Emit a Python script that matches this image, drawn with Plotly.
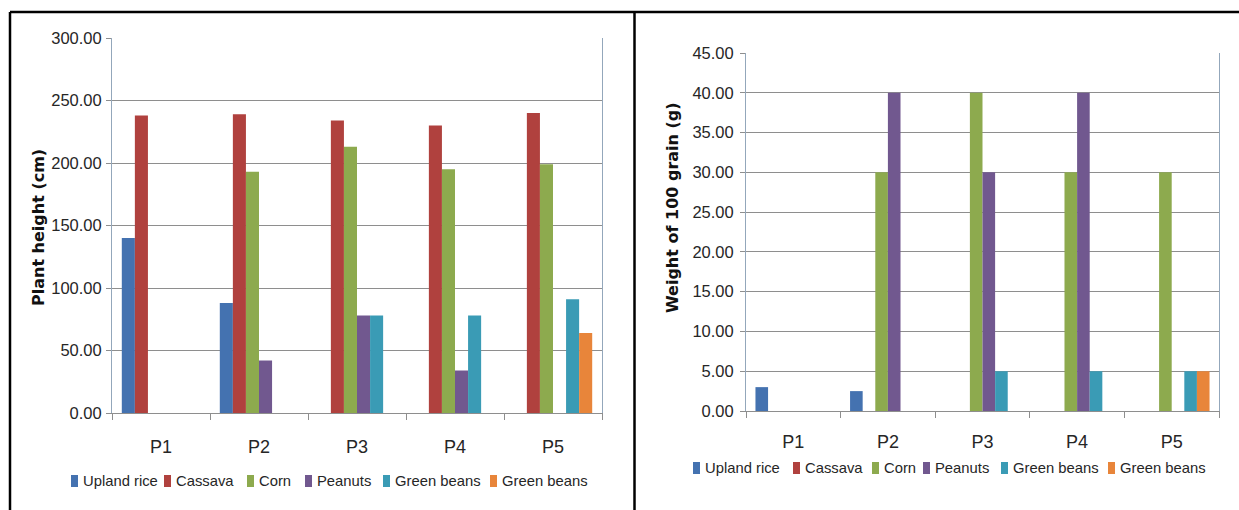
import plotly.graph_objects as go

# Plots and crops
plots = ["P1", "P2", "P3", "P4", "P5"]
crops = ["Upland rice", "Cassava", "Corn", "Peanuts", "Green beans", "Green beans"]
colors = ["#4472B0", "#B0413E", "#8DAA4E", "#71588F", "#3A9BB5", "#E8853A"]

# Plant height (cm) per crop across plots
height_upland_rice = [140, 88, 0, 0, 0]
height_cassava = [238, 239, 234, 230, 240]
height_corn = [0, 193, 213, 195, 199]
height_peanuts = [0, 42, 78, 34, 0]
height_green_beans = [0, 0, 78, 78, 91]
height_green_beans_2 = [0, 0, 0, 0, 64]

# Weight of 100 grain (g) per crop across plots
weight_upland_rice = [3.0, 2.5, 0, 0, 0]
weight_cassava = [0, 0, 0, 0, 0]
weight_corn = [0, 30, 40, 30, 30]
weight_peanuts = [0, 40, 30, 40, 0]
weight_green_beans = [0, 0, 5, 5, 5]
weight_green_beans_2 = [0, 0, 0, 0, 5]

height_series = [height_upland_rice, height_cassava, height_corn,
                 height_peanuts, height_green_beans, height_green_beans_2]
weight_series = [weight_upland_rice, weight_cassava, weight_corn,
                 weight_peanuts, weight_green_beans, weight_green_beans_2]

W, H = 1239, 510
FONT = "Liberation Sans, Arial, sans-serif"
TITLE_FONT = "DejaVu Sans, Verdana, sans-serif"
TEXT = "#262626"


def px_x(p):
    return p / W


def px_y(p):
    return 1 - p / H


fig = go.Figure()

for name, col, vals in zip(crops, colors, height_series):
    fig.add_trace(go.Bar(x=plots, y=vals, name=name, marker_color=col,
                         marker_line_width=0, xaxis="x", yaxis="y"))
for name, col, vals in zip(crops, colors, weight_series):
    fig.add_trace(go.Bar(x=plots, y=vals, name=name, marker_color=col,
                         marker_line_width=0, xaxis="x2", yaxis="y2"))

grid = "#8E8E8E"
frame = "#93A7BB"

common_x = dict(type="category", showgrid=False, showline=True,
                linecolor=grid, linewidth=1, ticks="outside",
                tickson="boundaries", ticklen=6, tickcolor=grid,
                tickfont=dict(family=FONT, size=18, color=TEXT),
                automargin=False, fixedrange=True)
common_y = dict(showgrid=True, gridcolor=grid, gridwidth=1, showline=True,
                linecolor=frame, linewidth=1, mirror=True, ticks="outside",
                ticklen=5, tickcolor=grid, tickformat=".2f",
                tickfont=dict(family=FONT, size=16.5, color=TEXT),
                zeroline=False, automargin=False, fixedrange=True)

fig.update_layout(
    width=W, height=H,
    margin=dict(l=0, r=0, t=0, b=0, autoexpand=False),
    paper_bgcolor="white", plot_bgcolor="white",
    barmode="group", bargap=0.2, bargroupgap=0,
    showlegend=False,
    xaxis=dict(domain=[px_x(112), px_x(602)], anchor="y",
               ticklabelstandoff=17, **common_x),
    yaxis=dict(domain=[px_y(413), px_y(38)], anchor="x", range=[0, 300],
               dtick=50, ticklabelstandoff=1, **common_y),
    xaxis2=dict(domain=[px_x(746), px_x(1219)], anchor="y2",
                ticklabelstandoff=14, **common_x),
    yaxis2=dict(domain=[px_y(411), px_y(53)], anchor="x2", range=[0, 45],
                dtick=5, ticklabelstandoff=3, **common_y),
)

# Vertical axis titles
title_font = dict(family=TITLE_FONT, size=16, color="#111111", weight="bold")
for text, cx, cy in [("Plant height (cm)", 39, 228),
                     ("Weight of 100 grain (g)", 672, 208)]:
    fig.add_annotation(text=text, xref="paper", yref="paper",
                       x=px_x(cx), y=px_y(cy), textangle=-90,
                       showarrow=False, font=title_font,
                       xanchor="center", yanchor="middle")

# Legend rows beneath each chart: colour key followed by crop name
legend_rows = [
    (481, [71, 164, 247, 305, 383, 490]),
    (468, [693, 793, 872, 923, 1001, 1108]),
]
for cy, keys in legend_rows:
    for kx, name, col in zip(keys, crops, colors):
        fig.add_shape(type="rect", xref="paper", yref="paper",
                      x0=px_x(kx), x1=px_x(kx + 7),
                      y0=px_y(cy + 6), y1=px_y(cy - 6),
                      fillcolor=col, line_width=0)
        fig.add_annotation(text=name, xref="paper", yref="paper",
                           x=px_x(kx + 10), y=px_y(cy), showarrow=False,
                           xanchor="left", yanchor="middle",
                           font=dict(family=FONT, size=14.8, color=TEXT))

# Panel frame lines
for x0, y0, x1, y1 in [(10, 12, 1239, 12), (10, 12, 10, 510),
                       (634.5, 12, 634.5, 510)]:
    fig.add_shape(type="line", xref="paper", yref="paper",
                  x0=px_x(x0), y0=px_y(y0), x1=px_x(x1), y1=px_y(y1),
                  line=dict(color="black", width=2.5))

fig.write_html("out.html")
